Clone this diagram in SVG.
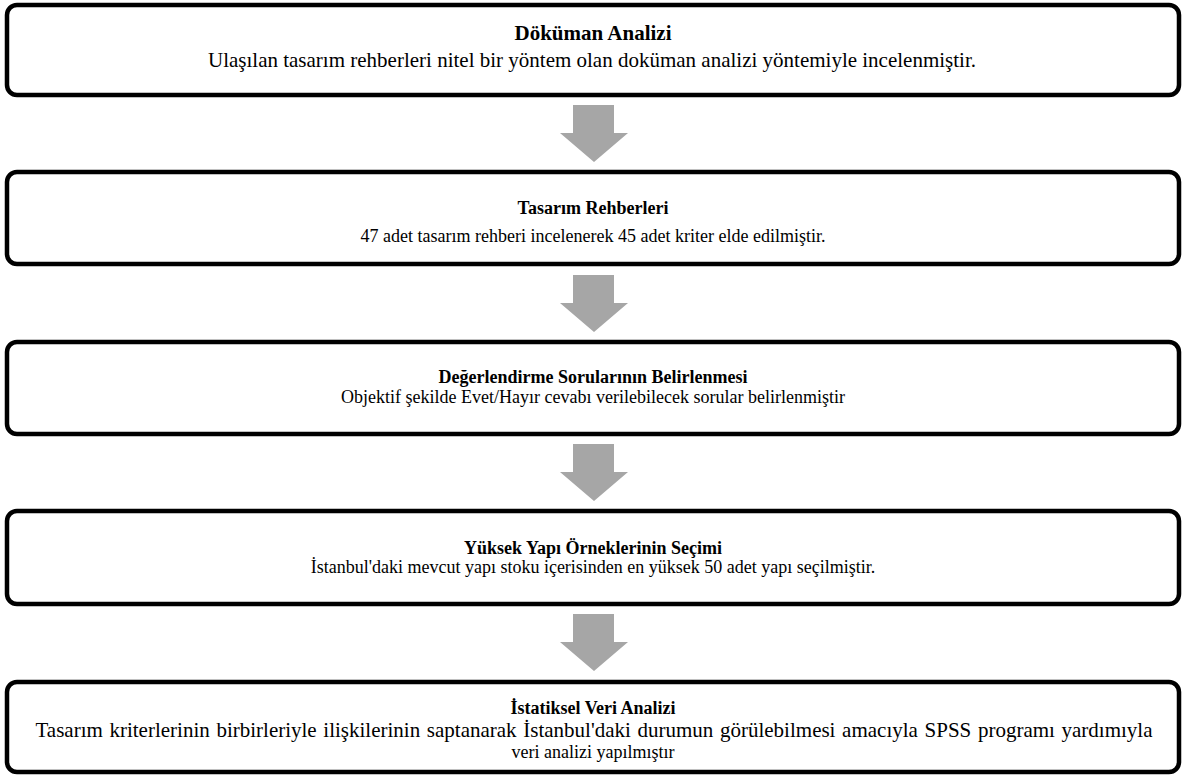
<svg xmlns="http://www.w3.org/2000/svg" width="1184" height="776" viewBox="0 0 1184 776">
<defs>
<style>
.box{fill:#fff;stroke:#000;stroke-width:4.5}
.t{font-family:"Liberation Serif","Times New Roman",serif;font-size:18px;font-weight:bold;text-anchor:middle;fill:#000}
.b{font-family:"Liberation Serif","Times New Roman",serif;font-size:18px;text-anchor:middle;fill:#000}
.lg{font-size:21px}
.arr{fill:#a6a6a6}
</style>
<polygon id="arrowShape" class="arr" points="573,0 614,0 614,28 628,28 594,57 560,28 573,28"/>
</defs>
<rect width="1184" height="776" fill="#fff"/>
<g id="connectors">
<use href="#arrowShape" y="105"/>
<use href="#arrowShape" y="275"/>
<use href="#arrowShape" y="444"/>
<use href="#arrowShape" y="614"/>
</g>
<g id="node1">
<rect class="box" x="7" y="5" width="1172" height="90" rx="10"/>
<text class="t lg" x="593" y="40">Döküman Analizi</text>
<text class="b lg" x="592" y="67">Ulaşılan tasarım rehberleri nitel bir yöntem olan doküman analizi yöntemiyle incelenmiştir.</text>
</g>
<g id="node2">
<rect class="box" x="7" y="172" width="1172" height="92" rx="10"/>
<text class="t" x="593" y="214">Tasarım Rehberleri</text>
<text class="b" x="593" y="242">47 adet tasarım rehberi incelenerek 45 adet kriter elde edilmiştir.</text>
</g>
<g id="node3">
<rect class="box" x="7" y="342" width="1172" height="92" rx="10"/>
<text class="t" x="593" y="383">Değerlendirme Sorularının Belirlenmesi</text>
<text class="b" x="593" y="403">Objektif şekilde Evet/Hayır cevabı verilebilecek sorular belirlenmiştir</text>
</g>
<g id="node4">
<rect class="box" x="7" y="511" width="1172" height="93" rx="10"/>
<text class="t" x="593" y="554">Yüksek Yapı Örneklerinin Seçimi</text>
<text class="b" x="593" y="573">İstanbul'daki mevcut yapı stoku içerisinden en yüksek 50 adet yapı seçilmiştir.</text>
</g>
<g id="node5">
<rect class="box" x="7" y="682" width="1172" height="90" rx="10"/>
<text class="t" x="593" y="714">İstatiksel Veri Analizi</text>
<text class="b lg" x="594" y="737" word-spacing="1.4">Tasarım kriterlerinin birbirleriyle ilişkilerinin saptanarak İstanbul'daki durumun görülebilmesi amacıyla SPSS programı yardımıyla</text>
<text class="b" x="593" y="758">veri analizi yapılmıştır</text>
</g>
</svg>
